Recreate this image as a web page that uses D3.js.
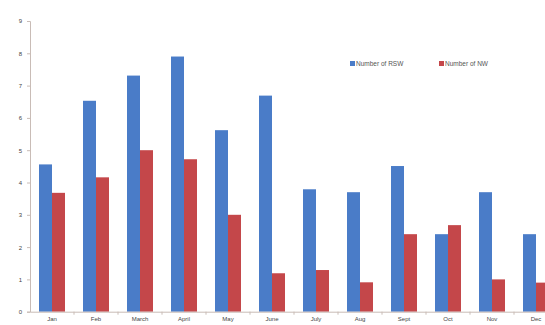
<!DOCTYPE html>
<html lang="en">
<head>
  <meta charset="utf-8">
  <title>RSW and NW per month</title>
  <script src="https://cdn.jsdelivr.net/npm/d3@7"></script>
  <style>
    body { margin: 0; background: #fff; }
    text { font-family: "Liberation Sans", Arial, sans-serif; }
  </style>
</head>
<body>
<script>
// data
var months = ["Jan", "Feb", "March", "April", "May", "June", "July", "Aug", "Sept", "Oct", "Nov", "Dec"];
var rsw = [4.56, 6.53, 7.31, 7.9, 5.62, 6.69, 3.79, 3.7, 4.51, 2.4, 3.7, 2.4];
var nw  = [3.68, 4.16, 5.0, 4.72, 3.0, 1.19, 1.29, 0.91, 2.4, 2.68, 1.0, 0.9];
var seriesNames = ["Number of RSW", "Number of NW"];
var yTicks = [0, 1, 2, 3, 4, 5, 6, 7, 8, 9];

var colors = ["#4a7cc8", "#c4474a"];
var W = 545, H = 325;
var plotLeft = 30, plotTop = 21, plotBottom = 311.7;
var band = 44;

var svg = d3.select("body").append("svg")
  .attr("width", W).attr("height", H);

var x = d3.scaleBand().domain(months).range([plotLeft, plotLeft + band * months.length])
  .paddingInner(0).paddingOuter(0);
var x1 = d3.scaleBand().domain([0, 1]).range([9, 35]);
var y = d3.scaleLinear().domain([0, 9]).range([plotBottom, plotTop]);

// bars
var g = svg.selectAll("g.month").data(months).enter().append("g")
  .attr("class", "month")
  .attr("transform", function(d) { return "translate(" + x(d) + ",0)"; });

g.selectAll("rect").data(function(d, i) { return [rsw[i], nw[i]]; }).enter().append("rect")
  .attr("x", function(d, j) { return x1(j); })
  .attr("width", x1.bandwidth())
  .attr("y", function(d) { return y(d); })
  .attr("height", function(d) { return plotBottom - y(d); })
  .attr("fill", function(d, j) { return colors[j]; });

// y axis
var yAxis = svg.append("g").attr("transform", "translate(" + plotLeft + ",0)")
  .call(d3.axisLeft(y).tickValues(yTicks).tickSize(3).tickPadding(5));
yAxis.select(".domain").attr("stroke", "#c9bcb6");
yAxis.selectAll(".tick line").attr("stroke", "#c9bcb6");
yAxis.selectAll("text").attr("fill", "#444").style("font-size", "6px");

// x axis
var xAxis = svg.append("g").attr("transform", "translate(0," + plotBottom + ")")
  .call(d3.axisBottom(x).tickSizeInner(0).tickSizeOuter(0).tickPadding(5));
xAxis.select(".domain").attr("stroke", "#c9bcb6");
xAxis.selectAll("text").attr("fill", "#444").style("font-size", "6px");
xAxis.selectAll("line.sep").data(months).enter().append("line")
  .attr("class", "sep")
  .attr("x1", function(d) { return x(d) + band; }).attr("x2", function(d) { return x(d) + band; })
  .attr("y1", 0).attr("y2", 3)
  .attr("stroke", "#c9bcb6");

// legend
var legend = svg.selectAll("g.legend").data(seriesNames).enter().append("g")
  .attr("class", "legend")
  .attr("transform", function(d, i) { return "translate(" + (350 + i * 89) + ",61)"; });
legend.append("rect").attr("width", 5).attr("height", 5)
  .attr("fill", function(d, i) { return colors[i]; });
legend.append("text").attr("x", 6).attr("y", 5)
  .attr("fill", "#555").style("font-size", "6.5px")
  .text(function(d) { return d; });
</script>
</body>
</html>
